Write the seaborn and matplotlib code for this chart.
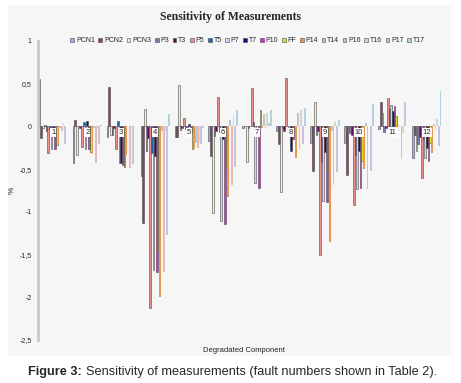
import pandas as pd
import numpy as np
import matplotlib
matplotlib.use("Agg")
import matplotlib.pyplot as plt
import seaborn as sns
from matplotlib.patches import Rectangle

# ---- data ----------------------------------------------------------------
faults = [str(i) for i in range(1, 13)]
series = ["PCN1", "PCN2", "PCN3", "P3", "T3", "P5", "T5", "P7", "T7",
          "P10", "FF", "P14", "T14", "P16", "T16", "P17", "T17"]

# one list per fault (group), values in the order of `series`
f1 = [0.55, -0.13, -0.02, 0.02, -0.05, -0.31, -0.03, -0.27, -0.05, -0.26, -0.22, -0.21, -0.02, -0.05, 0.04, -0.21, 0.0]
f2 = [-0.43, 0.07, -0.33, 0.01, -0.02, -0.24, 0.05, -0.26, 0.06, -0.26, -0.30, -0.32, -0.02, -0.43, -0.02, -0.21, 0.02]
f3 = [-0.12, 0.46, -0.10, -0.10, -0.02, -0.27, 0.06, -0.43, -0.43, -0.45, -0.47, -0.33, 0.01, -0.49, -0.01, -0.44, 0.0]
f4 = [-0.58, -1.13, 0.20, -0.29, -0.13, -2.12, -0.31, -1.68, -0.35, -1.70, -1.45, -2.00, -0.05, -1.70, -0.05, -1.27, 0.14]
f5 = [-0.12, -0.12, 0.48, -0.04, -0.02, 0.10, -0.03, -0.05, 0.03, -0.08, -0.26, -0.26, -0.20, -0.25, -0.18, -0.21, -0.02]
f6 = [-0.17, -0.35, -1.01, -0.11, -0.05, 0.35, -0.07, -1.11, -0.15, -1.14, -0.49, -0.83, 0.08, -0.68, 0.12, -0.48, 0.19]
f7 = [-0.02, 0.01, -0.42, -0.02, 0.0, 0.45, 0.05, -0.66, 0.0, -0.72, 0.19, -0.02, 0.15, -0.02, 0.16, 0.04, 0.19]
f8 = [-0.05, -0.21, -0.77, -0.02, -0.05, 0.57, 0.01, -0.05, -0.29, -0.15, -0.08, -0.37, 0.16, -0.27, 0.19, -0.21, 0.22]
f9 = [-0.20, -0.52, 0.29, -0.10, -0.05, -1.51, -0.42, -0.87, -0.30, -0.88, -0.53, -1.35, -0.05, -0.68, 0.05, -0.53, 0.08]
f10 = [-0.20, -0.57, -0.05, -0.08, -0.10, -0.92, -0.33, -0.73, -0.29, -0.72, -0.40, -0.50, 0.04, -0.73, 0.0, -0.52, 0.26]
f11 = [-0.03, 0.28, 0.16, -0.06, -0.02, 0.33, 0.20, 0.25, 0.18, 0.24, 0.12, 0.02, 0.0, -0.38, -0.08, 0.28, 0.0]
f12 = [-0.37, -0.10, -0.29, -0.21, -0.12, -0.60, -0.15, -0.37, -0.25, -0.41, -0.20, -0.31, 0.03, -0.03, 0.09, -0.23, 0.42]
groups = [f1, f2, f3, f4, f5, f6, f7, f8, f9, f10, f11, f12]

colors = ["#9999ff", "#993366", "#f4f4cc", "#7f70b0", "#660066", "#ff8080",
          "#0066cc", "#ccccff", "#000080", "#ff00ff", "#ffff00", "#ff9933",
          "#b4c0dc", "#e8b4b4", "#d8dcbc", "#cac0dc", "#a8d8e8"]
# the pale series at the end are drawn without the dark outline
outlined = [True] * 11 + [False] * 6

rows = []
for f, vals in zip(faults, groups):
    for s, v in zip(series, vals):
        rows.append({"fault": f, "meas": s, "value": v})
df = pd.DataFrame(rows)

# ---- figure ---------------------------------------------------------------
sns.set_style("white")
plt.rcParams["font.family"] = ["Liberation Sans", "DejaVu Sans"]

fig = plt.figure(figsize=(4.61, 3.83), dpi=100)
# grey panel behind the chart (caption stays on white)
fig.patches.append(Rectangle((0.017, 0.07), 0.961, 0.917, transform=fig.transFigure,
                             facecolor="#f6f6f6", edgecolor="none", zorder=-10))
ax = fig.add_axes([0.0824, 0.1123, 0.8936, 0.7807])
ax.set_facecolor("#f6f6f6")

sns.barplot(data=df, x="fault", y="value", hue="meas", hue_order=series,
            order=faults, palette=colors, width=0.86, ax=ax,
            edgecolor="#4a4a4a", linewidth=0.4, errorbar=None, legend=True)

for cont, has_edge in zip(ax.containers, outlined):
    for bar in cont:
        if not has_edge:
            bar.set_edgecolor("none")

ax.set_ylim(-2.5, 1)
ax.set_xlim(-0.45, 11.68)
ax.set_yticks([1, 0.5, 0, -0.5, -1, -1.5, -2, -2.5])
ax.set_yticklabels(["1", "0,5", "0", "-0,5", "-1", "-1,5", "-2", "-2,5"], fontsize=5)
ax.tick_params(axis="y", length=2, width=0.5, color="#999999", pad=2.5)
ax.set_xticks([])
for side in ["top", "right", "bottom"]:
    ax.spines[side].set_visible(False)
ax.spines["left"].set_color("#c8c8c8")
ax.spines["left"].set_linewidth(2)

# fault numbers sitting on the zero line
for i, f in enumerate(faults):
    ax.text(i, -0.07, f, ha="center", va="center", fontsize=5.5,
            bbox=dict(facecolor="white", edgecolor="none", pad=0.6), zorder=5)

ax.set_xlabel("Degradated Component", fontsize=5.5, labelpad=0)
ax.xaxis.set_label_coords(0.5, -0.022)
ax.set_ylabel("%", fontsize=6, labelpad=0)
ax.yaxis.set_label_coords(-0.053, 0.5)

ax.legend(loc="center", bbox_to_anchor=(0.537, 0.893), bbox_transform=fig.transFigure,
          ncol=17, fontsize=5, frameon=False, handlelength=0.55, handleheight=0.55,
          handletextpad=0.25, columnspacing=0.52, borderpad=0)

fig.text(0.5, 0.955, "Sensitivity of Measurements", ha="center", va="center",
         fontsize=8.5, fontweight="bold", family="Liberation Serif")

# caption: bold "Figure 3:" followed by normal text
cap1 = fig.text(0.061, 0.028, "Figure 3:", ha="left", va="center", fontsize=9.2, fontweight="bold")
fig.canvas.draw()
bb = cap1.get_window_extent().transformed(fig.transFigure.inverted())
fig.text(bb.x1 + 0.008, 0.028, "Sensitivity of measurements (fault numbers shown in Table 2).",
         ha="left", va="center", fontsize=9.2)

fig.savefig("out.png", dpi=100)
